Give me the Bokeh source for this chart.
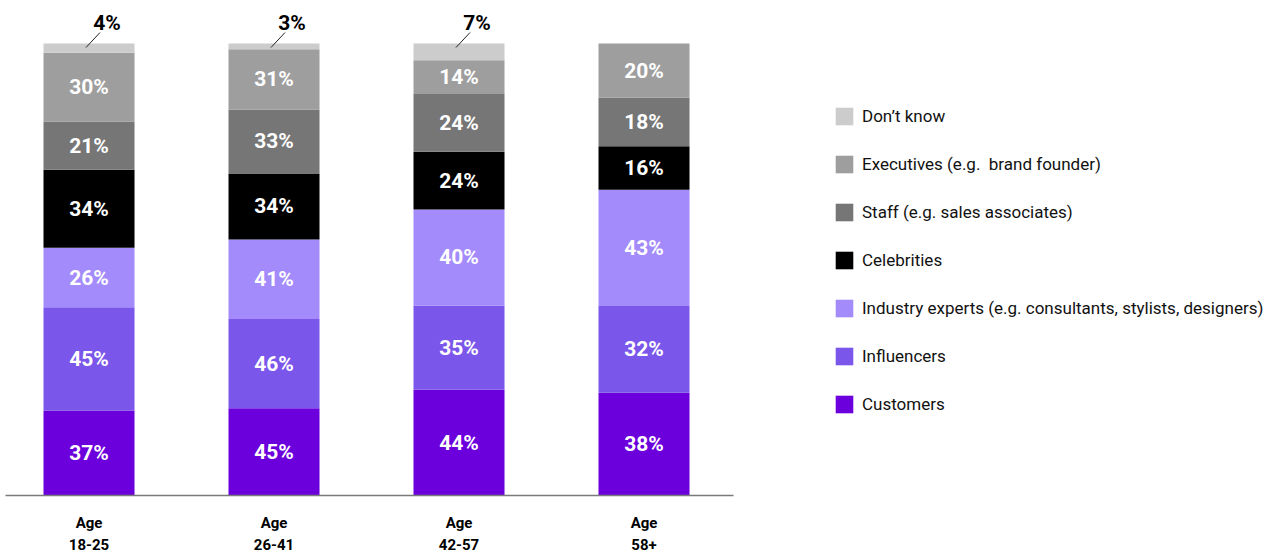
from bokeh.plotting import figure
from bokeh.models import ColumnDataSource, Range1d, FixedTicker, Legend, LegendItem
from bokeh.core.properties import value
from bokeh.embed import file_html
from bokeh.resources import INLINE

ages = ["18-25", "26-41", "42-57", "58+"]
tick_labels = ["Age\n18-25", "Age\n26-41", "Age\n42-57", "Age\n58+"]
series_names = ["Customers", "Influencers",
                "Industry experts (e.g. consultants, stylists, designers)",
                "Celebrities", "Staff (e.g. sales associates)",
                "Executives (e.g.  brand founder)", "Don\u2019t know"]
customers = [37, 45, 44, 38]
influencers = [45, 46, 35, 32]
industry = [26, 41, 40, 43]
celebrities = [34, 34, 24, 16]
staff = [21, 33, 24, 18]
executives = [30, 31, 14, 20]
dont_know = [4, 3, 7, 0]
colors = ["#6b00dc", "#7b56eb", "#a48bfb", "#000000", "#767676", "#9e9e9e", "#cccccc"]

series = [customers, influencers, industry, celebrities, staff, executives, dont_know]

FONT = "Roboto"
PX_X = 185.0   # px per x unit
PX_Y = 4.52    # px per y unit
X_START = -0.4514
X_END = X_START + 1275 / PX_X
Y_END = 495 / PX_Y

p = figure(frame_width=1275, frame_height=495, output_backend="svg", toolbar_location=None,
           x_range=Range1d(X_START, X_END), y_range=Range1d(0, Y_END),
           min_border_left=5, min_border_right=0, min_border_top=0, min_border_bottom=57)
p.outline_line_color = None
p.grid.visible = False
p.yaxis.visible = False
p.background_fill_color = "white"
p.border_fill_color = "white"

xs = list(range(len(ages)))
totals = [sum(s[i] for s in series) for i in xs]

bottoms = [0.0] * len(xs)
renderers = []
for name, vals, col in zip(series_names, series, colors):
    shares = [v / t * 100 for v, t in zip(vals, totals)]
    tops = [b + s for b, s in zip(bottoms, shares)]
    src = ColumnDataSource(dict(x=xs, bottom=bottoms, top=tops,
                                mid=[(b + t) / 2 for b, t in zip(bottoms, tops)],
                                lab=[f"{v}%" for v in vals], v=vals))
    r = p.vbar(x="x", bottom="bottom", top="top", width=0.492, source=src,
               fill_color=col, line_color=None)
    renderers.append((name, r))
    if name != "Don\u2019t know":
        p.text(x="x", y="mid", text="lab", source=src, text_color="white",
               text_font=value(FONT), text_font_style="bold", text_font_size="21px",
               text_align="center", text_baseline="middle")
    else:
        kx = [x for x, v in zip(xs, vals) if v > 0]
        kv = [v for v in vals if v > 0]
        ksrc = ColumnDataSource(dict(
            x0=[x - 3 / PX_X for x in kx], y0=[100 - 4 / PX_Y] * len(kx),
            x1=[x + 11 / PX_X for x in kx], y1=[100 + 11 / PX_Y] * len(kx),
            tx=[x + 18 / PX_X for x in kx], ty=[100 + 21 / PX_Y] * len(kx),
            lab=[f"{v}%" for v in kv]))
        p.segment(x0="x0", y0="y0", x1="x1", y1="y1", source=ksrc,
                  line_color="#222222", line_width=1)
        p.text(x="tx", y="ty", text="lab", source=ksrc, text_color="black",
               text_font=value(FONT), text_font_style="bold", text_font_size="21px",
               text_align="center", text_baseline="middle")
    bottoms = tops

ax = p.xaxis[0]
ax.ticker = FixedTicker(ticks=xs)
ax.bounds = (X_START, X_START + 728 / PX_X)
ax.major_label_overrides = {i: lab for i, lab in enumerate(tick_labels)}
ax.major_tick_line_color = None
ax.minor_tick_line_color = None
ax.axis_line_color = "#7a7a7a"
ax.axis_line_width = 1.5
ax.major_label_text_font = FONT
ax.major_label_text_font_style = "bold"
ax.major_label_text_font_size = "15px"
ax.major_label_text_color = "black"
ax.major_label_standoff = 12
ax.major_label_text_line_height = 1.25

legend = Legend(items=[LegendItem(label=n, renderers=[r]) for n, r in reversed(renderers)],
                location=(828, 80), orientation="vertical")
legend.glyph_width = 22
legend.glyph_height = 22
legend.label_height = 20
legend.spacing = 26
legend.label_standoff = 7
legend.padding = 0
legend.margin = 0
legend.border_line_color = None
legend.background_fill_alpha = 0
legend.label_text_font = FONT
legend.label_text_font_size = "17px"
legend.label_text_color = "#111111"
legend.label_text_baseline = "middle"
p.add_layout(legend, "center")

open("out.html", "w").write(file_html(p, INLINE))
